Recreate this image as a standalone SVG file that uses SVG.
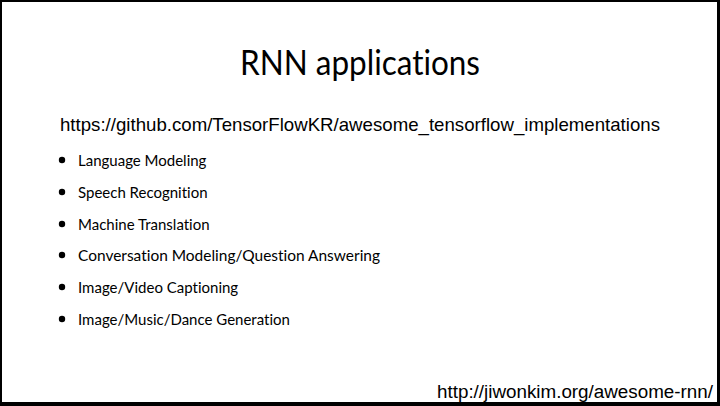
<svg xmlns="http://www.w3.org/2000/svg" width="720" height="406" viewBox="0 0 720 406">
<style>
.t{font-family:"Lato","Open Sans",sans-serif;fill:#000;font-variant-ligatures:none}
.u{font-family:"Liberation Sans",Arial,sans-serif;fill:#000}
.b{font-family:"Lato","Open Sans",sans-serif;font-size:15px;fill:#000;font-variant-ligatures:none}
</style>
<rect x="0" y="0" width="720" height="406" fill="#000"/>
<rect x="2" y="2" width="715" height="400" fill="#fff"/>
<text class="t" x="360" y="75" font-size="35" text-anchor="middle" textLength="240" lengthAdjust="spacingAndGlyphs">RNN applications</text>
<text class="u" x="60" y="131" font-size="19" textLength="600" lengthAdjust="spacingAndGlyphs">https://github.com/TensorFlowKR/awesome_tensorflow_implementations</text>
<g id="bullets">
<circle cx="62" cy="160" r="3.2"/>
<text class="b" x="78" y="166">Language Modeling</text>
<circle cx="62" cy="192" r="3.2"/>
<text class="b" x="78" y="198">Speech Recognition</text>
<circle cx="62" cy="224" r="3.2"/>
<text class="b" x="78" y="230">Machine Translation</text>
<circle cx="62" cy="255" r="3.2"/>
<text class="b" x="78" y="261" textLength="302" lengthAdjust="spacingAndGlyphs">Conversation Modeling/Question Answering</text>
<circle cx="62" cy="287" r="3.2"/>
<text class="b" x="78" y="293">Image/Video Captioning</text>
<circle cx="62" cy="319" r="3.2"/>
<text class="b" x="78" y="325">Image/Music/Dance Generation</text>
</g>
<text class="u" x="437" y="398" font-size="18" textLength="276" lengthAdjust="spacingAndGlyphs">http://jiwonkim.org/awesome-rnn/</text>
</svg>
